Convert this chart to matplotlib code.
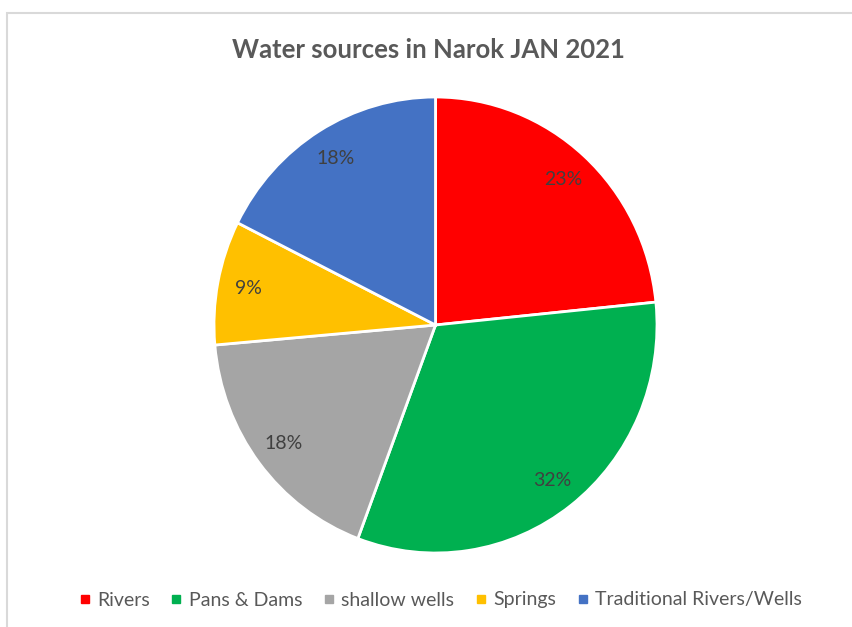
import matplotlib.pyplot as plt
from matplotlib.lines import Line2D
from matplotlib.patches import Rectangle

sources = ['Rivers', 'Pans & Dams', 'shallow wells', 'Springs',
           'Traditional Rivers/Wells']
shares = [23.4, 32.3, 17.9, 8.8, 17.6]
colors = ['#FF0000', '#00B050', '#A5A5A5', '#FFC000', '#4472C4']

plt.rcParams['font.family'] = ['Lato', 'DejaVu Sans']

W, H = 852, 627
fig = plt.figure(figsize=(W / 100, H / 100), dpi=100)

# pie centred at (435, 325) px; the source image is slightly taller than wide
cx, cy, rx, ry = 435.5, 325, 221.5, 228
ax = fig.add_axes([(cx - rx) / W, (H - cy - ry) / H, 2 * rx / W, 2 * ry / H])
wedges, texts, autotexts = ax.pie(
    shares, colors=colors, startangle=90, counterclock=False,
    autopct='%1.0f%%', pctdistance=0.86,
    wedgeprops=dict(edgecolor='white', linewidth=2),
    textprops=dict(color='#404040', fontsize=14))
ax.set_aspect('auto')
ax.set_xlim(-1, 1)
ax.set_ylim(-1, 1)

fig.text(428.5 / W, 1 - 50 / H, 'Water sources in Narok JAN 2021',
         ha='center', va='center', fontsize=18.5, fontweight='bold',
         color='#595959')

handles = [Line2D([], [], marker='s', linestyle='none', markersize=6,
                  markerfacecolor=c, markeredgecolor=c) for c in colors]
fig.legend(handles, sources, loc='center', ncol=5,
           bbox_to_anchor=(441 / W, 1 - 600 / H), frameon=False,
           fontsize=14, labelcolor='#595959', handlelength=0.5,
           handletextpad=0.4, columnspacing=1.1)

# light grey chart border, cut off at right and bottom
fig.add_artist(Rectangle((7 / W, -0.1), 2, (H - 13) / H + 0.1,
                         transform=fig.transFigure, fill=False,
                         edgecolor='#d9d9d9', linewidth=1.5))

fig.savefig('out.png', dpi=100)
